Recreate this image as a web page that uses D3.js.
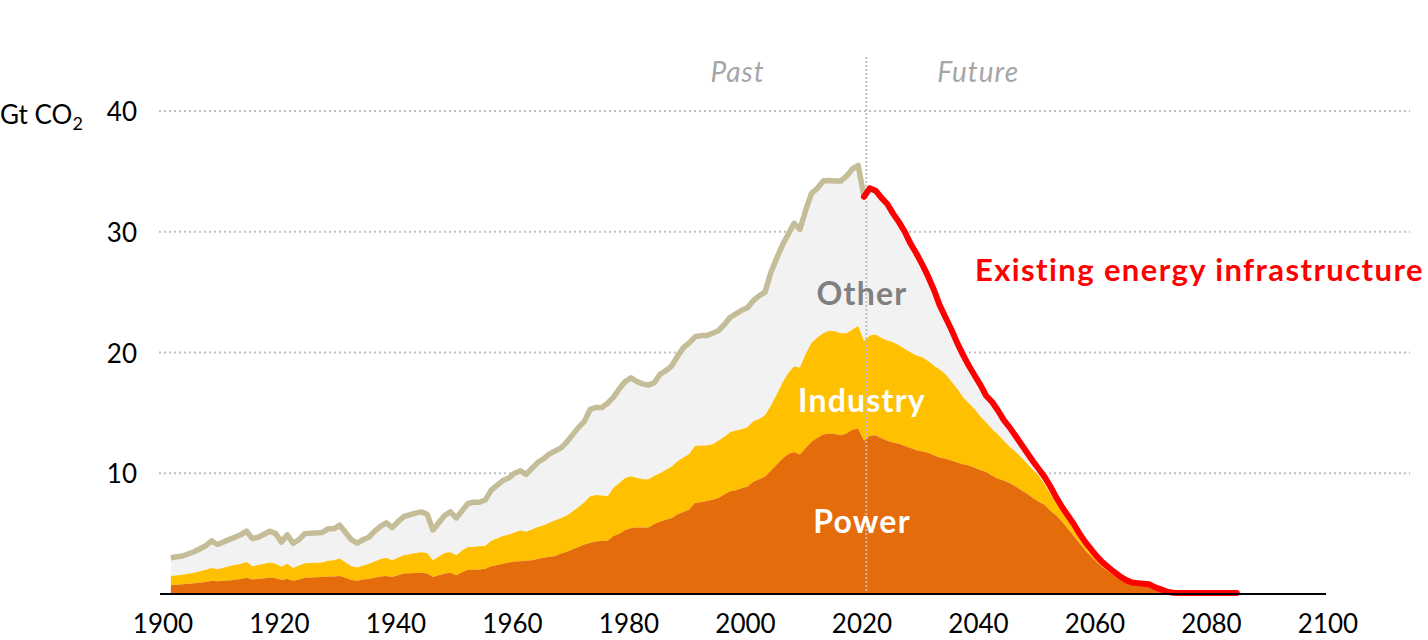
<!DOCTYPE html>
<html>
<head>
<meta charset="utf-8">
<script src="https://cdn.jsdelivr.net/npm/d3@7"></script>
<style>
  body { margin: 0; background: #fff; }
  text { font-family: Lato, "Open Sans", sans-serif; }
</style>
</head>
<body>
<svg width="1428" height="640"></svg>
<script>
// ---- data (Gt CO2) ----
// past: cumulative levels of the stack (power, power+industry, total)
var pastYears = [1901,1903,1905,1907,1908,1909,1911,1913,1914,1915,1916,1918,1919,1920,1921,1922,1923,1924,1927,1928,1929,1930,1931,1932,1933,1934,1935,1936,1937,1938,1939,1940,1941,1942,1943,1944,1945,1946,1947,1948,1949,1950,
  1951,1952,1953,1954,1955,1956,1957,1958,1959,1960,1961,1962,1963,1964,1965,1966,1967,1968,1969,1970,1971,1972,1973,1974,1975,1976,1977,1978,1979,1980,
  1981,1982,1983,1984,1985,1986,1987,1988,1989,1990,1991,1992,1993,1994,1995,1996,1997,1998,1999,2000,2001,2002,2003,2004,2005,2006,2007,2008,2009,2010,
  2011,2012,2013,2014,2015,2016,2017,2018,2019,2020];
var pastPower = [0.72,0.8,0.9,1.0,1.1,1.05,1.12,1.25,1.35,1.2,1.25,1.35,1.3,1.15,1.25,1.1,1.2,1.35,1.4,1.45,1.45,1.5,1.35,1.15,1.1,1.2,1.25,1.35,1.45,1.5,1.4,1.55,1.7,1.72,1.74,1.75,1.7,1.4,1.55,1.7,1.75,1.55,
  1.8,2.0,2.0,2.02,2.1,2.3,2.4,2.5,2.6,2.7,2.72,2.75,2.8,2.9,3.0,3.08,3.15,3.35,3.5,3.7,3.9,4.1,4.25,4.35,4.4,4.4,4.8,5.0,5.3,5.45,
  5.5,5.5,5.5,5.8,6.0,6.15,6.3,6.6,6.8,7.0,7.55,7.6,7.7,7.8,7.95,8.25,8.5,8.6,8.75,8.9,9.3,9.5,9.7,10.2,10.7,11.2,11.6,11.75,11.55,12.1,
  12.6,12.95,13.2,13.3,13.25,13.15,13.3,13.6,13.7,12.7];
var pastIndustry = [1.5,1.6,1.75,2.0,2.15,2.05,2.3,2.5,2.65,2.3,2.4,2.6,2.5,2.25,2.5,2.15,2.35,2.55,2.6,2.75,2.8,2.95,2.6,2.3,2.2,2.35,2.5,2.7,2.9,3.0,2.8,3.0,3.2,3.3,3.4,3.45,3.4,2.8,3.1,3.4,3.45,3.2,
  3.6,3.9,3.9,3.95,4.0,4.4,4.6,4.8,4.9,5.1,5.25,5.15,5.35,5.55,5.7,5.9,6.1,6.3,6.5,6.85,7.2,7.6,8.1,8.2,8.15,8.1,8.8,9.2,9.6,9.75,
  9.6,9.5,9.5,9.8,10.0,10.3,10.55,11.0,11.3,11.6,12.25,12.3,12.3,12.4,12.7,13.0,13.4,13.55,13.65,13.8,14.3,14.5,14.8,15.6,16.5,17.5,18.3,18.85,18.75,19.9,
  20.8,21.25,21.6,21.8,21.75,21.6,21.6,21.9,22.2,20.95];
var pastTotal = [3.0,3.15,3.5,4.0,4.4,4.1,4.5,4.9,5.2,4.6,4.7,5.2,5.0,4.3,4.9,4.2,4.5,5.0,5.1,5.4,5.4,5.7,5.1,4.5,4.2,4.5,4.7,5.2,5.6,5.9,5.5,6.0,6.4,6.55,6.7,6.8,6.6,5.3,5.9,6.5,6.8,6.3,
  6.9,7.5,7.6,7.6,7.8,8.6,9.0,9.4,9.6,10.0,10.2,9.9,10.4,10.9,11.2,11.6,11.85,12.1,12.6,13.2,13.8,14.3,15.3,15.45,15.45,15.8,16.3,17.0,17.6,17.9,
  17.6,17.4,17.3,17.5,18.2,18.5,18.9,19.7,20.4,20.8,21.3,21.4,21.4,21.6,21.8,22.3,22.9,23.2,23.5,23.7,24.3,24.7,25.0,26.6,27.8,28.9,29.8,30.7,30.2,31.8,
  33.2,33.6,34.2,34.25,34.2,34.2,34.6,35.2,35.5,32.9];

// future: emissions locked in by existing energy infrastructure
var futureYears = [2021,2022,2023,2024,2025,2026,2027,2028,2029,2030,2031,2032,2033,2034,2035,2036,2037,2038,2039,2040,
  2041,2042,2043,2044,2045,2046,2047,2048,2049,2050,2051,2052,2053,2054,2055,2056,2057,2058,2059,2060,
  2061,2062,2063,2064,2065,2066,2067,2068,2069,2070,2071,2072,2073,2074,2076,2080,2084];
var futurePower = [13.1,13.15,12.9,12.7,12.55,12.45,12.25,12.1,11.9,11.8,11.7,11.5,11.3,11.2,11.05,10.9,10.75,10.65,10.45,10.25,
  10.1,9.8,9.55,9.4,9.2,8.9,8.6,8.3,7.95,7.65,7.4,6.9,6.5,6.0,5.4,4.8,4.2,3.6,3.1,2.6,
  2.2,1.85,1.5,1.2,0.95,0.8,0.75,0.7,0.65,0.45,0.3,0.15,0.07,0.04,0.04,0.04,0.04];
var futureIndustry = [21.4,21.5,21.2,21.0,20.85,20.6,20.3,20.0,19.75,19.6,19.3,18.9,18.6,18.2,17.6,17.0,16.3,15.8,15.3,14.7,
  14.2,13.65,13.2,12.7,12.2,11.8,11.3,10.8,10.3,9.8,9.1,8.3,7.5,6.9,6.1,5.4,4.7,4.05,3.45,2.9,
  2.4,2.0,1.65,1.3,1.05,0.85,0.8,0.75,0.7,0.5,0.33,0.18,0.08,0.06,0.06,0.06,0.06];
var futureTotal = [33.6,33.4,32.8,32.3,31.5,30.8,30.0,29.0,28.2,27.3,26.3,25.2,23.9,22.9,21.9,20.8,19.8,18.9,18.1,17.3,
  16.4,15.9,15.2,14.4,13.8,13.1,12.4,11.7,11.0,10.35,9.7,8.9,8.0,7.2,6.5,5.8,5.0,4.3,3.7,3.1,
  2.6,2.2,1.8,1.45,1.15,0.95,0.9,0.85,0.8,0.55,0.38,0.2,0.1,0.08,0.08,0.08,0.08];

var xTicks = [1900,1920,1940,1960,1980,2000,2020,2040,2060,2080,2100];
var yTicks = [10,20,30,40];
var dividerYear = 2020.4;

var width = 1428, height = 640;
var svg = d3.select("svg");

var x = d3.scaleLinear().domain([1900, 2100]).range([165, 1330]);
var y = d3.scaleLinear().domain([0, 40]).range([594, 111]);

// one table for the stacked areas (past + future)
var rows = [];
for (var i = 0; i < pastYears.length; i++) {
  rows.push({year: pastYears[i], p: pastPower[i], ind: pastIndustry[i], tot: pastTotal[i]});
}
for (var j = 0; j < futureYears.length; j++) {
  rows.push({year: futureYears[j], p: futurePower[j], ind: futureIndustry[j], tot: futureTotal[j]});
}
var pastRows = rows.slice(0, pastYears.length);
var futureRows = rows.slice(pastYears.length - 1);   // starts at the last past year so the lines join

// gridlines
svg.append("g")
  .selectAll("line")
  .data(yTicks)
  .enter().append("line")
    .attr("x1", 159).attr("x2", 1410)
    .attr("y1", d => y(d)).attr("y2", d => y(d))
    .attr("stroke", "#BFBFBF")
    .attr("stroke-width", 2)
    .attr("stroke-dasharray", "2,3");

// areas
var areaOther = d3.area().x(d => x(d.year)).y0(d => y(d.ind)).y1(d => y(d.tot));
var areaInd = d3.area().x(d => x(d.year)).y0(d => y(d.p)).y1(d => y(d.ind));
var areaPow = d3.area().x(d => x(d.year)).y0(y(0)).y1(d => y(d.p));

svg.append("path").attr("d", areaOther(rows)).attr("fill", "#F2F2F2");
svg.append("path").attr("d", areaInd(rows)).attr("fill", "#FFC000");
svg.append("path").attr("d", areaPow(rows)).attr("fill", "#E46C0A");

// past / future divider
svg.append("line")
  .attr("x1", x(dividerYear)).attr("x2", x(dividerYear))
  .attr("y1", 57).attr("y2", y(0))
  .attr("stroke", "#BFBFBF")
  .attr("stroke-width", 2)
  .attr("stroke-dasharray", "2,2");

// total lines
var lineTot = d3.line().x(d => x(d.year)).y(d => y(d.tot));
svg.append("path")
  .attr("d", lineTot(pastRows))
  .attr("fill", "none")
  .attr("stroke", "#C4BD97")
  .attr("stroke-width", 5.5)
  .attr("stroke-linejoin", "round");

svg.append("path")
  .attr("d", lineTot(futureRows))
  .attr("fill", "none")
  .attr("stroke", "#FF0000")
  .attr("stroke-width", 6)
  .attr("stroke-linejoin", "round")
  .attr("stroke-linecap", "round");

// x axis line
svg.append("line")
  .attr("x1", 160).attr("x2", 1326)
  .attr("y1", y(0)).attr("y2", y(0))
  .attr("stroke", "#000")
  .attr("stroke-width", 2);

// tick labels
svg.append("g")
  .selectAll("text")
  .data(xTicks)
  .enter().append("text")
    .attr("x", d => x(d) - 2)
    .attr("y", 633)
    .attr("text-anchor", "middle")
    .attr("font-size", 26)
    .attr("fill", "#000")
    .text(d => d);

svg.append("g")
  .selectAll("text")
  .data(yTicks)
  .enter().append("text")
    .attr("x", 137)
    .attr("y", d => y(d) + 10)
    .attr("text-anchor", "end")
    .attr("font-size", 26)
    .attr("fill", "#000")
    .text(d => d);

var unit = svg.append("text")
  .attr("x", 0)
  .attr("y", y(40) + 13)
  .attr("font-size", 26)
  .attr("fill", "#000");
unit.append("tspan").text("Gt CO");
unit.append("tspan").attr("dy", 6).attr("font-size", 18).text("2");

// annotations
svg.append("text")
  .attr("x", x(1998.3)).attr("y", 82)
  .attr("text-anchor", "middle")
  .attr("font-size", 28).attr("font-style", "italic")
  .attr("letter-spacing", 1)
  .attr("fill", "#A6A6A6")
  .text("Past");
svg.append("text")
  .attr("x", x(2039.6)).attr("y", 82)
  .attr("text-anchor", "middle")
  .attr("font-size", 28).attr("font-style", "italic")
  .attr("letter-spacing", 1)
  .attr("fill", "#A6A6A6")
  .text("Future");

var sectorLabels = [
  {name: "Other", level: 23.9, color: "#808080"},
  {name: "Industry", level: 15.1, color: "#fff"},
  {name: "Power", level: 5.08, color: "#fff"}
];
svg.append("g")
  .selectAll("text")
  .data(sectorLabels)
  .enter().append("text")
    .attr("x", 862)
    .attr("y", d => y(d.level))
    .attr("text-anchor", "middle")
    .attr("font-size", 32).attr("font-weight", "bold")
    .attr("letter-spacing", 1.2)
    .attr("fill", d => d.color)
    .text(d => d.name);

svg.append("text")
  .attr("x", 975).attr("y", y(25.9))
  .attr("font-size", 31).attr("font-weight", "bold")
  .attr("letter-spacing", 1.4)
  .attr("fill", "#FF0000")
  .text("Existing energy infrastructure");
</script>
</body>
</html>
